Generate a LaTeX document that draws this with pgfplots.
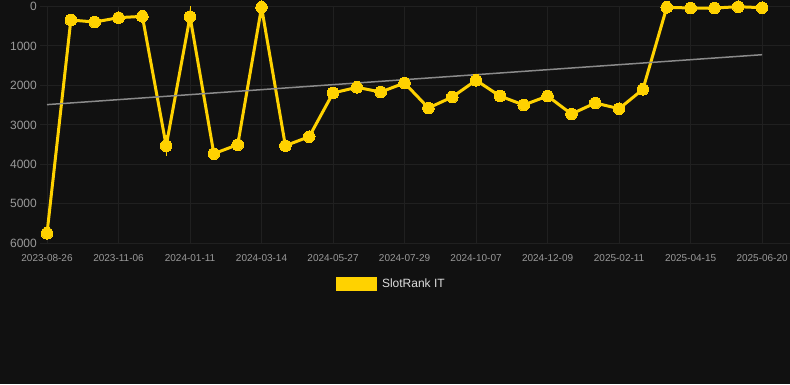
\documentclass[border=0pt]{standalone}
\usepackage{pgfplots}
\pgfplotsset{compat=1.18}
\usepackage{fontspec}
\setmainfont{Liberation Sans}
\definecolor{bg}{HTML}{111111}
\definecolor{gold}{HTML}{FFD200}
\definecolor{gridc}{HTML}{202020}
\definecolor{tickc}{HTML}{9A9A9A}
\definecolor{trend}{HTML}{8A8A8A}
\definecolor{legc}{HTML}{DDDDDD}
\begin{document}
\begin{tikzpicture}[x=1pt,y=1pt]
\fill[bg] (0,0) rectangle (790,384);
\begin{axis}[
  at={(40pt,140.7pt)}, anchor=south west,
  scale only axis, width=750pt, height=236.8pt,
  xmin=-0.294, xmax=31.17,
  ymin=0, ymax=6000, y dir=reverse,
  clip=false,
  axis line style={draw=none},
  major tick length=0pt,
  ytick={0,1000,2000,3000,4000,5000,6000},
  xtick={0,3,6,9,12,15,18,21,24,27,30},
  xticklabels={2023-08-26,2023-11-06,2024-01-11,2024-03-14,2024-05-27,2024-07-29,2024-10-07,2024-12-09,2025-02-11,2025-04-15,2025-06-20},
  /pgf/number format/assume math mode=true,
  scaled y ticks=false,
  yticklabel style={font=\fontsize{12}{14}\selectfont, text=tickc, anchor=east, inner sep=0pt, xshift=-3pt, /pgf/number format/1000 sep={}},
  xticklabel style={font=\fontsize{10}{12}\selectfont, text=tickc, anchor=north, inner sep=0pt, yshift=-11pt},
  grid=major,
  major grid style={color=gridc, line width=1pt},
  legend style={draw=none, fill=none, inner sep=0pt, outer sep=0pt,
    at={(0.3947,-0.17)}, anchor=west,
    font=\fontsize{12}{14}\selectfont, text=legc},
  legend cell align=left,
  legend image code/.code={\fill[gold] (0pt,-5.5pt) rectangle (38pt,5.5pt);},
  /tikz/every odd column/.append style={column sep=3pt},
]
\addplot[gold, line width=3pt, mark=*, mark size=5.8pt, mark options={fill=gold, draw=gold, line width=0pt},
  error bars/.cd, y dir=both, y explicit, error bar style={gold, line width=0.6pt}, error mark=none]
  coordinates {
  (0,5746) (1,342) (2,393) (3,283) (4,249) (5,3527) +- (0,260) (6,258) +- (0,260)
  (7,3729) (8,3501) (9,20) +- (0,260) (10,3527) (11,3298) (12,2191) (13,2048)
  (14,2166) (15,1938) (16,2572) (17,2293) (18,1870) (19,2268) (20,2496)
  (21,2268) (22,2724) (23,2445) (24,2589) (25,2098) (26,20) (27,38)
  (28,38) (29,5) (30,30)
  };
\addlegendentry{SlotRank IT}
\addplot[trend, line width=1.5pt, forget plot] coordinates {(0,2486) (30,1221)};
\end{axis}
\pgfresetboundingbox
\path[use as bounding box] (0,0) rectangle (790,384);
\end{tikzpicture}
\end{document}
